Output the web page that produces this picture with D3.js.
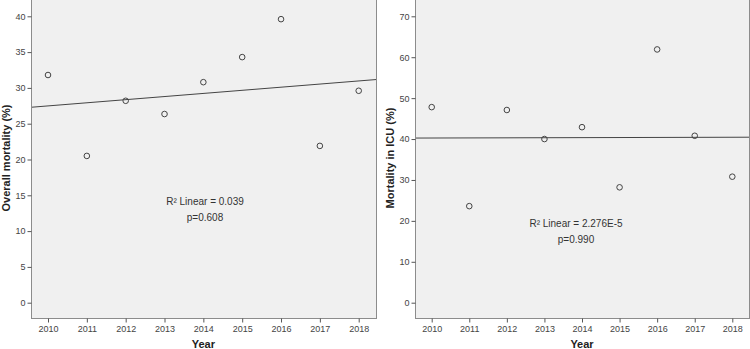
<!DOCTYPE html>
<html>
<head>
<meta charset="utf-8">
<script src="https://cdn.jsdelivr.net/npm/d3@7"></script>
<style>
  body { margin: 0; background: #fff; }
  svg { display: block; font-family: "Liberation Sans", Arial, sans-serif; }
</style>
</head>
<body>
<svg width="750" height="349"></svg>
<script>
'use strict';

const years = [2010, 2011, 2012, 2013, 2014, 2015, 2016, 2017, 2018]
const overallMortality = [31.8, 20.5, 28.2, 26.35, 30.8, 34.3, 39.6, 21.9, 29.6]
const icuMortality = [47.8, 23.6, 47.1, 40.0, 42.9, 28.2, 61.9, 40.8, 30.8]
const overallTicks = [0, 5, 10, 15, 20, 25, 30, 35, 40]
const icuTicks = [0, 10, 20, 30, 40, 50, 60, 70]

const panels = [
  {
    values: overallMortality, ticks: overallTicks, yMax: 40,
    title: 'Overall mortality (%)', stats: ['R² Linear = 0.039', 'p=0.608'],
    box: [31, 376], xr: [48, 358.7], titleX: 6, statsPos: [205, 205]
  },
  {
    values: icuMortality, ticks: icuTicks, yMax: 70,
    title: 'Mortality in ICU (%)', stats: ['R² Linear = 2.276E-5', 'p=0.990'],
    box: [415, 749], xr: [431.7, 732.3], titleX: 390, statsPos: [576, 227]
  }
]

const svg = d3.select('svg')

// least squares fit
function fit(xs, ys) {
  const mx = d3.mean(xs), my = d3.mean(ys)
  const slope = d3.sum(xs, (x, i) => (x - mx) * (ys[i] - my)) / d3.sum(xs, (x) => (x - mx) ** 2)
  return (x) => my + slope * (x - mx)
}

panels.forEach((p) => {
  const top = -1, bottom = 318
  const x = d3.scaleLinear().domain([2010, 2018]).range(p.xr)
  const y = d3.scaleLinear().domain([0, p.yMax]).range([302.7, 16.3])
  const g = svg.append('g')

  g.append('rect')
    .attr('x', p.box[0] + 0.5).attr('y', top)
    .attr('width', p.box[1] - p.box[0]).attr('height', bottom - top + 0.5)
    .style('fill', '#f0f0f0').style('stroke', '#8c8c8c').style('stroke-width', 1)

  // y axis
  g.append('g')
    .attr('transform', `translate(${p.box[0] + 0.5},0)`)
    .call(d3.axisLeft(y).tickValues(p.ticks).tickSize(4).tickPadding(2))
    .call((a) => a.select('.domain').remove())
    .call((a) => a.selectAll('line').style('stroke', '#555'))
    .call((a) => a.selectAll('text').style('font-size', '9px').style('fill', '#444')
      .style('font-family', '"Liberation Sans", Arial, sans-serif'))

  // x axis
  g.append('g')
    .attr('transform', `translate(0,${bottom + 0.5})`)
    .call(d3.axisBottom(x).tickValues(years).tickFormat(d3.format('d')).tickSize(4).tickPadding(3))
    .call((a) => a.select('.domain').remove())
    .call((a) => a.selectAll('line').style('stroke', '#555'))
    .call((a) => a.selectAll('text').style('font-size', '9px').style('fill', '#444')
      .style('font-family', '"Liberation Sans", Arial, sans-serif'))

  // fit line across the panel
  const f = fit(years, p.values)
  const x0 = x.invert(p.box[0] + 1), x1 = x.invert(p.box[1])
  g.append('line')
    .attr('x1', x(x0)).attr('y1', y(f(x0)))
    .attr('x2', x(x1)).attr('y2', y(f(x1)))
    .style('stroke', '#444').style('stroke-width', 1)

  g.selectAll('circle')
    .data(p.values)
    .enter()
    .append('circle')
    .attr('cx', (d, i) => x(years[i]))
    .attr('cy', (d) => y(d))
    .attr('r', 2.8)
    .style('fill', 'none')
    .style('stroke', '#444')
    .style('stroke-width', 1)

  g.selectAll('text.stat')
    .data(p.stats)
    .enter()
    .append('text')
    .attr('class', 'stat')
    .attr('x', p.statsPos[0])
    .attr('y', (d, i) => p.statsPos[1] + i * 16)
    .attr('text-anchor', 'middle')
    .style('font-size', '10px')
    .style('fill', '#333')
    .text((d) => d)

  g.append('text')
    .attr('transform', `translate(${p.titleX + 4},158) rotate(-90)`)
    .attr('text-anchor', 'middle')
    .style('font-size', '11px')
    .style('font-weight', 'bold')
    .style('fill', '#222')
    .text(p.title)

  g.append('text')
    .attr('x', (p.xr[0] + p.xr[1]) / 2)
    .attr('y', 348)
    .attr('text-anchor', 'middle')
    .style('font-size', '11px')
    .style('font-weight', 'bold')
    .style('fill', '#222')
    .text('Year')
})
</script>
</body>
</html>
